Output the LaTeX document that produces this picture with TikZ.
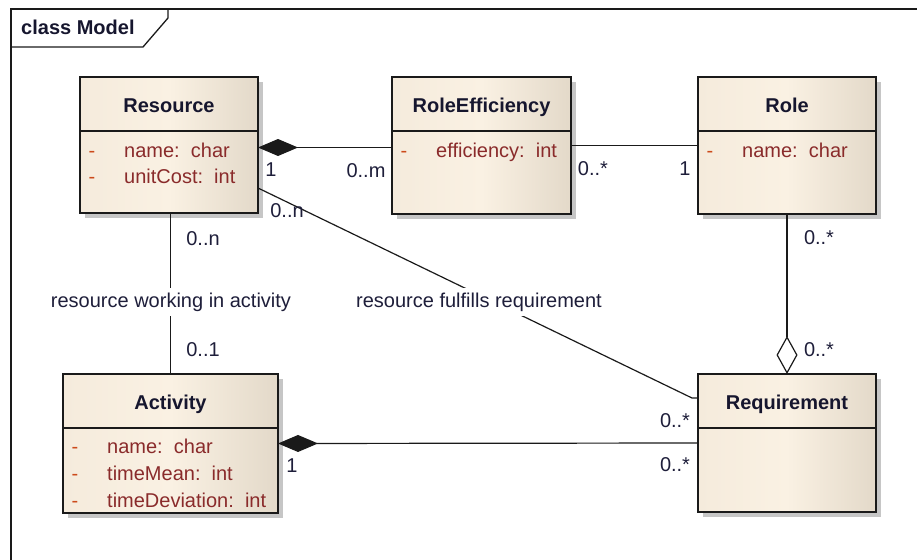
\documentclass[tikz,border=0pt]{standalone}
\usepackage{fontspec}
\setmainfont{Liberation Sans}
\usetikzlibrary{arrows.meta,shadows,calc}

\definecolor{boxleft}{HTML}{F5EBDC}
\definecolor{boxmid}{HTML}{FAF1E3}
\definecolor{boxright}{HTML}{E3D9C9}
\definecolor{shadowgray}{HTML}{C6C6C6}
\definecolor{titleink}{HTML}{16162E}
\definecolor{attrink}{HTML}{8A2B2B}
\definecolor{dashink}{HTML}{CC4A1A}
\definecolor{multink}{HTML}{1E1E3A}
\definecolor{edgeink}{HTML}{1A1A1A}

\tikzset{
  classbox/.style={draw=edgeink, line width=1.4pt, inner sep=0pt, outer sep=0pt,
    anchor=north west, left color=boxleft, right color=boxright, middle color=boxmid,
    drop shadow={shadow xshift=5pt, shadow yshift=-5pt, fill=shadowgray, opacity=1}},
  compartment/.style={draw=edgeink, line width=1.4pt},
  basetext/.style={inner sep=0pt, text height=14.5pt, text depth=4pt,
    font=\fontsize{20pt}{24pt}\selectfont},
  classtitle/.style={basetext, font=\fontsize{20pt}{24pt}\selectfont\bfseries, text=titleink},
  attrdash/.style={basetext, text=dashink},
  attrtext/.style={basetext, text=attrink, anchor=west},
  mult/.style={basetext, text=multink},
  assoclabel/.style={basetext, text=multink, fill=white, inner xsep=3pt, inner ysep=5pt},
  assoc/.style={draw=edgeink, line width=1.2pt},
  composite/.style={assoc, {Diamond[length=40pt, width=17pt]}-},
  shared/.style={assoc, -{Diamond[open, fill=white, length=38pt, width=21pt]}},
  frameline/.style={draw=edgeink, line width=1.3pt},
}

% class box: name, x, y, width, height, title
\newcommand\umlclass[6]{%
  \node[classbox, minimum width=#4pt, minimum height=#5pt] (#1) at (#2,#3) {};
  \draw[compartment] ($(#1.north west)+(0,54)$) -- ($(#1.north east)+(0,54)$);
  \node[classtitle] (#1-title) at ($(#1.north)+(0,30)$) {#6};
}
% attribute row: box, row id, offset from top, text
\newcommand\umlattr[4]{%
  \node[attrdash] (#1-dash#2) at ($(#1.north west)+(12,#3)$) {-};
  \node[attrtext] (#1-attr#2) at ($(#1.north west)+(44,#3)$) {#4};
}

\begin{document}
\begin{tikzpicture}[x=1pt, y=-1pt]
\useasboundingbox (0,0) rectangle (917,559);

% diagram frame with name tab
\draw[frameline] (11,560) -- (11,9) -- (918,9);
\draw[frameline] (11,47) -- (143,47) -- (168,18) -- (168,9);
\node[classtitle, anchor=west] (frame-name) at (21,29) {class Model};

% classes
\umlclass{res}{80}{77}{178}{136}{Resource}
\umlattr{res}{1}{75}{name:\ \ char}
\umlattr{res}{2}{101}{unitCost:\ \ int}

\umlclass{reff}{392}{77}{179}{137}{RoleEfficiency}
\umlattr{reff}{1}{75}{efficiency:\ \ int}

\umlclass{role}{698}{77}{178}{137}{Role}
\umlattr{role}{1}{75}{name:\ \ char}

\umlclass{act}{63}{374}{215}{139}{Activity}
\umlattr{act}{1}{74}{name:\ \ char}
\umlattr{act}{2}{101}{timeMean:\ \ int}
\umlattr{act}{3}{128}{timeDeviation:\ \ int}

\umlclass{req}{698}{374}{178}{138}{Requirement}

% association end points
\coordinate (reff-in) at ([yshift=-2pt]reff.west);
\coordinate (res-out) at ([yshift=-43pt]res.east);
\coordinate (req-in) at ([yshift=45pt]req.west);

% associations
\draw[composite] (res.east |- reff-in) -- (reff-in);
\draw[assoc] (reff.east) -- (role.west);
\draw[assoc] (act.north |- res.south) -- (act.north);
\draw[assoc] (res-out) -- ([xshift=-6pt]req-in) -- (req-in);
\draw[composite] (act.east) -- (req.west);
\draw[shared] (role.south) -- (req.north);

% association names
\node[assoclabel] (work-label) at (171,302) {resource working in activity};
\node[assoclabel] (fulfil-label) at (479,302) {resource fulfills requirement};

% multiplicities
\node[mult] (m-res-reff) at (271,171) {1};
\node[mult] (m-reff-res) at (366,172) {0..m};
\node[mult] (m-reff-role) at (593,170) {0..*};
\node[mult] (m-role-reff) at (685,170) {1};
\node[mult] (m-res-req) at (287,212) {0..n};
\node[mult] (m-res-act) at (203,240) {0..n};
\node[mult] (m-act-res) at (203,351) {0..1};
\node[mult] (m-role-req) at (819,239) {0..*};
\node[mult] (m-req-role) at (819,351) {0..*};
\node[mult] (m-req-res) at (675,422) {0..*};
\node[mult] (m-req-act) at (675,466) {0..*};
\node[mult] (m-act-req) at (292,467) {1};
\end{tikzpicture}
\end{document}
